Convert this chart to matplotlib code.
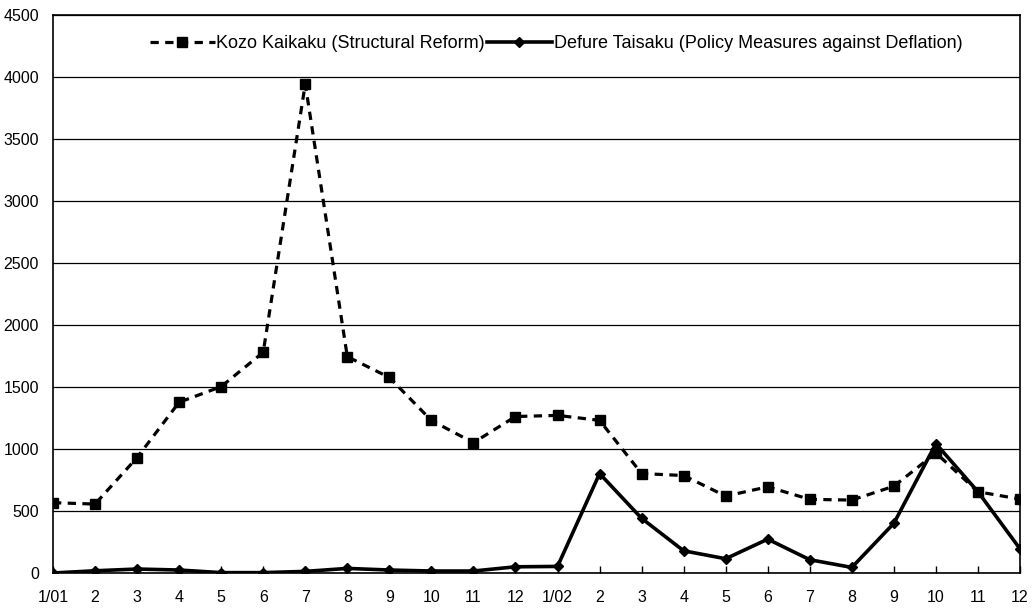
import matplotlib
matplotlib.use("Agg")
import matplotlib.pyplot as plt

plt.rcParams['font.family'] = ['Liberation Sans', 'DejaVu Sans']

months = ["1/01", "2", "3", "4", "5", "6", "7", "8", "9", "10", "11", "12",
          "1/02", "2", "3", "4", "5", "6", "7", "8", "9", "10", "11", "12"]
kozo = [567, 556, 931, 1377, 1503, 1780, 3944, 1745, 1577, 1230, 1051, 1262,
        1271, 1231, 802, 786, 620, 695, 594, 588, 700, 968, 655, 596]
defure = [0, 18, 32, 24, 3, 3, 13, 37, 24, 16, 16, 50,
          53, 802, 441, 179, 115, 273, 107, 45, 401, 1043, 655, 195]
kozo_label = "Kozo Kaikaku (Structural Reform)"
defure_label = "Defure Taisaku (Policy Measures against Deflation)"

fig = plt.figure(figsize=(10.34, 6.10), dpi=100)
ax = fig.add_axes([53/1034, 1-573/610, (1020-53)/1034, (573-15)/610])

x = list(range(len(months)))
ax.plot(x, kozo, color='black', linestyle=(0, (2.6, 2.0)), linewidth=2.3,
        marker='s', markersize=6.5, label=kozo_label)
ax.plot(x, defure, color='black', linestyle='-', linewidth=2.6,
        marker='D', markersize=5, label=defure_label)

ax.set_xlim(0, len(months) - 1)
ax.set_ylim(0, 4500)
ax.set_yticks(range(0, 4501, 500))
ax.set_xticks(x)
ax.set_xticklabels(months)
ax.grid(axis='y', color='black', linewidth=0.9)
ax.set_axisbelow(True)
for s in ax.spines.values():
    s.set_color('black')
    s.set_linewidth(1.2)
ax.tick_params(axis='x', direction='in', length=5, width=1, pad=12, labelsize=11.5)
ax.tick_params(axis='y', length=0, pad=10, labelsize=11.5)

leg = ax.legend(loc='upper center', bbox_to_anchor=(0.52, 0.993), ncol=2,
                frameon=False, fontsize=13, handlelength=3.6,
                handletextpad=0.1, columnspacing=0.1)

fig.savefig("out.png", dpi=100)
